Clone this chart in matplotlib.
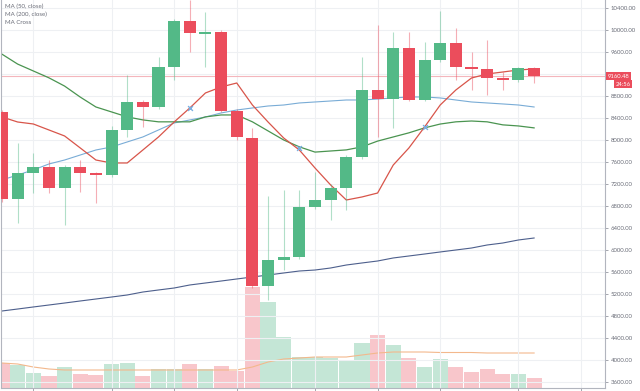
import matplotlib.pyplot as plt
import numpy as np

# weekly candles (open, high, low, close)
opens = [8509, 6927, 7400, 7509, 7127, 7509, 7400, 7364, 8182, 8691, 8600, 9327,
         10164, 9927, 9964, 8527, 8036, 5345, 5818, 5873, 6782, 6909, 7127, 7691,
         8909, 8746, 9673, 8727, 9455, 9764, 9327, 9291, 9127, 9091, 9309]
highs = [8550, 7945, 7764, 7636, 7550, 7636, 7420, 8250, 9182, 8720, 9509, 10200,
         10545, 10327, 10000, 8560, 8218, 6982, 7090, 7090, 7418, 7200, 7720, 9509,
         10091, 9964, 9964, 9782, 10350, 10036, 9600, 9818, 9236, 9330, 9330]
lows = [6880, 6491, 7036, 7036, 6455, 7055, 6855, 7330, 8055, 8236, 8560, 9091,
        9600, 9327, 8500, 8000, 5300, 5091, 5636, 5840, 6750, 6545, 6727, 7650,
        8055, 8218, 8700, 8700, 9420, 9091, 8909, 8818, 8909, 9060, 9036]
closes = [6927, 7400, 7509, 7127, 7509, 7400, 7364, 8182, 8691, 8600, 9327, 10164,
          9945, 9964, 8527, 8055, 5345, 5818, 5873, 6782, 6909, 7127, 7691, 8909,
          8746, 9673, 8727, 9455, 9764, 9327, 9291, 9127, 9091, 9309, 9160.48]
volume = [250, 230, 150, 120, 210, 140, 130, 240, 250, 120, 190, 190, 240, 190,
          220, 170, 1010, 860, 510, 310, 310, 300, 270, 450, 530, 430, 300, 210,
          290, 210, 160, 190, 140, 140, 100]
vol_ma = [250, 240, 210, 190, 180, 180, 180, 180, 180, 180, 180, 180, 180, 180,
          180, 180, 210, 260, 290, 300, 310, 310, 310, 330, 350, 360, 360, 360,
          355, 355, 355, 350, 350, 350, 350]

# moving averages
ma_fast = [8418, 8327, 8291, 8182, 8073, 7855, 7636, 7582, 7582, 7818, 8055, 8327,
           8582, 8855, 8964, 9036, 8636, 8327, 8036, 7818, 7491, 7182, 6909, 6964,
           7036, 7545, 7855, 8236, 8636, 8909, 9127, 9200, 9236, 9273, 9291]
ma_50 = [9560, 9380, 9255, 9130, 8980, 8780, 8600, 8510, 8420, 8365, 8330, 8330,
         8330, 8420, 8455, 8455, 8330, 8165, 8000, 7875, 7780, 7800, 7820, 7875,
         7980, 8055, 8130, 8220, 8290, 8330, 8345, 8330, 8275, 8255, 8220]
ma_mid = [7273, 7364, 7455, 7564, 7636, 7727, 7818, 7873, 7964, 8055, 8182, 8309,
          8364, 8418, 8491, 8545, 8582, 8618, 8636, 8673, 8691, 8709, 8727, 8727,
          8745, 8764, 8782, 8782, 8764, 8727, 8691, 8673, 8655, 8636, 8600]
ma_200 = [4891, 4927, 4964, 5000, 5036, 5073, 5109, 5145, 5182, 5236, 5273, 5309,
          5364, 5400, 5436, 5473, 5509, 5545, 5582, 5618, 5636, 5673, 5727, 5764,
          5800, 5855, 5891, 5927, 5964, 6000, 6036, 6091, 6127, 6182, 6218]
cross_idx = [12, 19, 27]
cross_val = [8582, 7855, 8236]

month_idx = [2, 7, 11, 15, 20, 24, 28, 33, 37]
price_ticks = [10400, 10000, 9600, 8800, 8400, 8000, 7600, 7200, 6800, 6400,
               6000, 5600, 5200, 4800, 4400, 4000, 3600]
legend_lines = ["MA (50, close)", "MA (200, close)", "MA Cross"]
last_label = "9160.48"
countdown = "24:56"

up, down = '#53b987', '#eb4d5c'
vol_up, vol_down = '#c4e6d6', '#f8c6cb'
txt_col = '#6a6d78'

plt.rcParams['font.family'] = ['Lato', 'DejaVu Sans']

fig = plt.figure(figsize=(6.4, 3.91), dpi=100)
rect = [1/640, 3/391, 604/640, 388/391]
axv = fig.add_axes(rect)
ax = fig.add_axes(rect)
ax.patch.set_visible(False)

x = np.arange(len(opens))
rising = np.array(closes) >= np.array(opens)
xlim = (-0.064, 38.53)

# volume pane
axv.bar(x, volume, width=0.97, color=np.where(rising, vol_up, vol_down), linewidth=0)
axv.plot(x, vol_ma, color='#f3b88c', linewidth=0.8)
axv.set_ylim(0, 3880)
axv.set_xlim(*xlim)
axv.axis('off')

# grid
for p in range(3600, 10800, 400):
    ax.axhline(p, color='#eef0f3', linewidth=0.8, zorder=0)
for m in month_idx:
    ax.axvline(m, color='#eef0f3', linewidth=0.8, zorder=0)

# last price line
ax.axhline(closes[-1], color='#f4b6bc', linewidth=0.8, zorder=1)

# moving averages
ax.plot(x, ma_200, color='#4d5f8c', linewidth=0.8, zorder=2)
ax.plot(x, ma_mid, color='#79acd6', linewidth=0.8, zorder=2)
ax.plot(x, ma_50, color='#4a9450', linewidth=0.9, zorder=2)
ax.plot(x, ma_fast, color='#d8554a', linewidth=0.9, zorder=2)
ax.scatter(cross_idx, cross_val, marker='x', s=12, color='#7aaee0', linewidths=1, zorder=5)

# candles
colors = np.where(rising, up, down)
ax.vlines(x, lows, highs, colors=colors, linewidth=0.8, alpha=0.45, zorder=3)
body_lo = np.minimum(opens, closes)
body_h = np.abs(np.array(closes) - np.array(opens))
ax.bar(x, body_h, bottom=body_lo, width=0.77, color=colors, linewidth=0, zorder=4)

ax.set_xlim(*xlim)
ax.set_ylim(3491, 10545)

ax.yaxis.tick_right()
ax.set_yticks(price_ticks)
ax.set_yticklabels([f"{p:.2f}" for p in price_ticks])
ax.tick_params(axis='y', length=2.5, width=0.6, pad=1.5, colors='#9598a1',
               labelsize=4.3, labelcolor=txt_col)
ax.set_xticks(month_idx)
ax.set_xticklabels([])
ax.tick_params(axis='x', length=2.5, width=0.6, colors='#9598a1')
for s in ['top']:
    ax.spines[s].set_visible(False)
for s in ['left', 'right', 'bottom']:
    ax.spines[s].set_color('#b2b5be')
    ax.spines[s].set_linewidth(0.8)

# legend text top left
for i, t in enumerate(legend_lines):
    fig.text(5/640, 1 - (6 + 8.5*i)/391, t, fontsize=4.4, color=txt_col, va='center', ha='left')

# price tags
ax.annotate(last_label, xy=(1.0, closes[-1]), xycoords=('axes fraction', 'data'),
            xytext=(2, 0), textcoords='offset points', ha='left', va='center',
            fontsize=4.2, color='white',
            bbox=dict(boxstyle='square,pad=0.25', fc=down, ec='none'))
fig.text(631/640, 1 - 84/391, countdown, fontsize=4.2, color='white', ha='right', va='center',
         bbox=dict(boxstyle='square,pad=0.25', fc=down, ec='none'))

fig.savefig('out.png', dpi=100)
